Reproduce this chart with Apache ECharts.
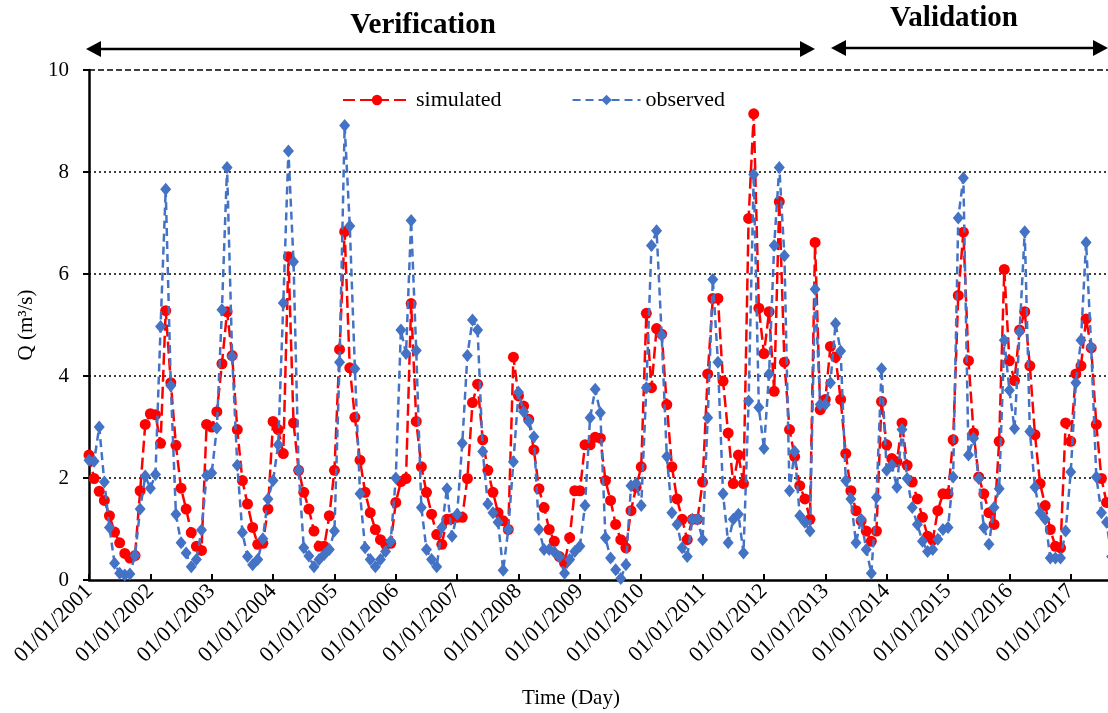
<!DOCTYPE html>
<html><head><meta charset="utf-8">
<script src="https://cdn.jsdelivr.net/npm/echarts@6/dist/echarts.min.js"></script>
<style>html,body{margin:0;padding:0;background:#fff}#c{width:1108px;height:713px}</style>
</head><body><div id="c"></div>
<script>
const years = [2001,2002,2003,2004,2005,2006,2007,2008,2009,2010,2011,2012,2013,2014,2015,2016,2017];
const months = ['01','02','03','04','05','06','07','08','09','10','11','12'];
const yTicks = [0,2,4,6,8,10];

// simulated monthly discharge, one row per year
const simulated = [
  2.45,1.99,1.74,1.56,1.26,0.94,0.73,0.52,0.43,0.48,1.75,3.05,
  3.26,3.24,2.68,5.28,3.87,2.64,1.80,1.39,0.93,0.66,0.58,3.05,
  3.00,3.30,4.24,5.26,4.40,2.95,1.95,1.49,1.03,0.70,0.72,1.39,
  3.11,2.95,2.48,6.34,3.08,2.15,1.72,1.39,0.96,0.66,0.66,1.26,
  2.15,4.52,6.83,4.16,3.19,2.35,1.72,1.32,0.99,0.79,0.70,0.72,
  1.52,1.93,1.99,5.42,3.11,2.22,1.72,1.29,0.89,0.70,1.19,1.20,
  1.23,1.23,1.99,3.48,3.84,2.75,2.15,1.72,1.32,1.16,0.99,4.37,
  3.61,3.41,3.15,2.55,1.79,1.42,0.99,0.76,0.46,0.33,0.83,1.75,
  1.75,2.65,2.65,2.80,2.78,1.95,1.56,1.09,0.79,0.63,1.36,1.82,
  2.22,5.23,3.77,4.93,4.82,3.44,2.22,1.59,1.19,0.79,1.19,1.19,
  1.92,4.04,5.52,5.52,3.90,2.88,1.89,2.45,1.89,7.09,9.14,5.33,
  4.44,5.26,3.70,7.42,4.27,2.95,2.42,1.85,1.59,1.19,6.62,3.34,
  3.54,4.58,4.37,3.54,2.48,1.75,1.36,1.16,0.96,0.76,0.96,3.50,
  2.65,2.38,2.32,3.08,2.25,1.92,1.59,1.23,0.86,0.78,1.36,1.69,
  1.69,2.75,5.58,6.82,4.30,2.88,2.02,1.69,1.32,1.09,2.72,6.09,
  4.30,3.91,4.90,5.26,4.20,2.85,1.89,1.46,0.99,0.66,0.63,3.08,
  2.72,4.04,4.20,5.12,4.55,3.05,1.99,1.52,'-','-','-','-'
];
// observed monthly discharge, one row per year
const observed = [
  2.35,2.33,3.00,1.92,1.03,0.33,0.13,0.10,0.12,0.48,1.39,2.04,
  1.80,2.07,4.97,7.66,3.81,1.29,0.73,0.53,0.26,0.40,0.98,2.05,
  2.10,2.98,5.30,8.09,4.38,2.25,0.93,0.46,0.30,0.40,0.81,1.59,
  1.95,2.65,5.43,8.41,6.24,2.15,0.63,0.47,0.26,0.40,0.50,0.60,
  0.96,4.27,8.91,6.94,4.14,1.69,0.63,0.40,0.26,0.40,0.56,0.76,
  2.00,4.90,4.44,7.05,4.50,1.42,0.60,0.40,0.26,1.03,1.79,0.86,
  1.29,2.68,4.40,5.10,4.90,2.52,1.49,1.32,1.13,0.19,0.99,2.32,
  3.68,3.30,3.11,2.81,0.99,0.60,0.60,0.55,0.45,0.13,0.40,0.56,
  0.66,1.46,3.18,3.74,3.28,0.83,0.43,0.20,0.03,0.30,1.85,1.89,
  1.46,3.77,6.56,6.85,4.80,2.42,1.32,1.09,0.63,0.46,1.19,1.19,
  0.79,3.18,5.89,4.27,1.69,0.73,1.19,1.29,0.53,3.51,7.95,3.38,
  2.58,4.04,6.56,8.09,6.36,1.75,2.52,1.26,1.13,0.96,5.70,3.44,
  3.44,3.87,5.03,4.49,1.95,1.59,0.73,1.19,0.60,0.13,1.62,4.14,
  2.15,2.25,1.82,2.95,1.99,1.42,1.09,0.76,0.56,0.60,0.80,0.99,
  1.03,2.02,7.10,7.88,2.45,2.78,1.99,1.03,0.70,1.42,1.79,4.70,
  3.72,2.97,4.87,6.83,2.91,1.82,1.32,1.19,0.43,0.43,0.43,0.96,
  2.12,3.87,4.70,6.62,4.57,2.02,1.32,1.13,0.46,'-','-','-'
];

const categories = [];
years.forEach(function (y) { months.forEach(function (m) { categories.push('01/' + m + '/' + y); }); });

const FONT = '"Liberation Serif", "Times New Roman", serif';
const isJan = function (idx) { return idx % 12 === 0; };

const chart = echarts.init(document.getElementById('c'), null, {renderer: 'canvas'});
chart.setOption({
  animation: false,
  backgroundColor: '#ffffff',
  textStyle: {fontFamily: FONT, color: '#000'},
  grid: {left: 89, top: 70, bottom: 133, right: -19, containLabel: false, outerBoundsMode: 'none'},
  legend: {
    data: ['simulated', 'observed'],
    left: 337, top: 84,
    itemWidth: 68, itemHeight: 13, itemGap: 70,
    textStyle: {fontFamily: FONT, fontSize: 22, color: '#000'}
  },
  xAxis: {
    type: 'category',
    data: categories,
    boundaryGap: false,
    axisLine: {show: true, lineStyle: {color: '#000', width: 2.5}},
    axisTick: {show: true, inside: true, length: 6, interval: isJan, lineStyle: {color: '#000', width: 2}},
    axisLabel: {interval: isJan, rotate: 45, margin: 8, fontFamily: FONT, fontSize: 22, color: '#000'},
    splitLine: {show: false}
  },
  yAxis: {
    type: 'value',
    min: yTicks[0], max: yTicks[yTicks.length - 1], interval: 2,
    name: 'Q (m³/s)', nameLocation: 'middle', nameGap: 52,
    nameTextStyle: {fontFamily: FONT, fontSize: 21, color: '#000'},
    axisLine: {show: true, lineStyle: {color: '#000', width: 2.5}},
    axisTick: {show: true, inside: false, length: 6, lineStyle: {color: '#000', width: 2}},
    axisLabel: {margin: 20, fontFamily: FONT, fontSize: 21, color: '#000'},
    splitLine: {show: true, showMinLine: false, showMaxLine: false, lineStyle: {color: '#000', width: 1.6, type: [2, 3]}}
  },
  series: [
    {
      name: 'simulated', type: 'line', data: simulated,
      symbol: 'circle', symbolSize: 11, showAllSymbol: true,
      itemStyle: {color: '#FF0000'},
      lineStyle: {color: '#FF0000', width: 2.5, type: [12, 5]},
      z: 2
    },
    {
      name: 'observed', type: 'line', data: observed,
      symbol: 'diamond', symbolSize: [11, 13], showAllSymbol: true,
      itemStyle: {color: '#4472C4'},
      lineStyle: {color: '#4472C4', width: 2.5, type: [8, 5]},
      z: 3,
      markLine: {
        silent: true, symbol: 'none', animation: false,
        label: {show: false},
        lineStyle: {color: '#000', width: 1.6, type: [6, 3]},
        data: [{yAxis: 10}]
      }
    }
  ],
  graphic: [
    {type: 'text', x: 423, y: 26, style: {text: 'Verification', font: 'bold 29px ' + FONT, fill: '#000', textAlign: 'center', textVerticalAlign: 'middle'}},
    {type: 'text', x: 954, y: 19, style: {text: 'Validation', font: 'bold 29px ' + FONT, fill: '#000', textAlign: 'center', textVerticalAlign: 'middle'}},
    {type: 'text', x: 571, y: 698, style: {text: 'Time (Day)', font: '21px ' + FONT, fill: '#000', textAlign: 'center', textVerticalAlign: 'middle'}},
    {type: 'line', shape: {x1: 96, y1: 49, x2: 806, y2: 49}, style: {stroke: '#000', lineWidth: 2.7}},
    {type: 'polygon', shape: {points: [[86, 49], [101, 41], [101, 57]]}, style: {fill: '#000'}},
    {type: 'polygon', shape: {points: [[815, 49], [800, 41], [800, 57]]}, style: {fill: '#000'}},
    {type: 'line', shape: {x1: 840, y1: 48, x2: 1100, y2: 48}, style: {stroke: '#000', lineWidth: 2.7}},
    {type: 'polygon', shape: {points: [[831, 48], [846, 40], [846, 56]]}, style: {fill: '#000'}},
    {type: 'polygon', shape: {points: [[1108, 48], [1093, 40], [1093, 56]]}, style: {fill: '#000'}}
  ]
});
</script>
</body></html>
